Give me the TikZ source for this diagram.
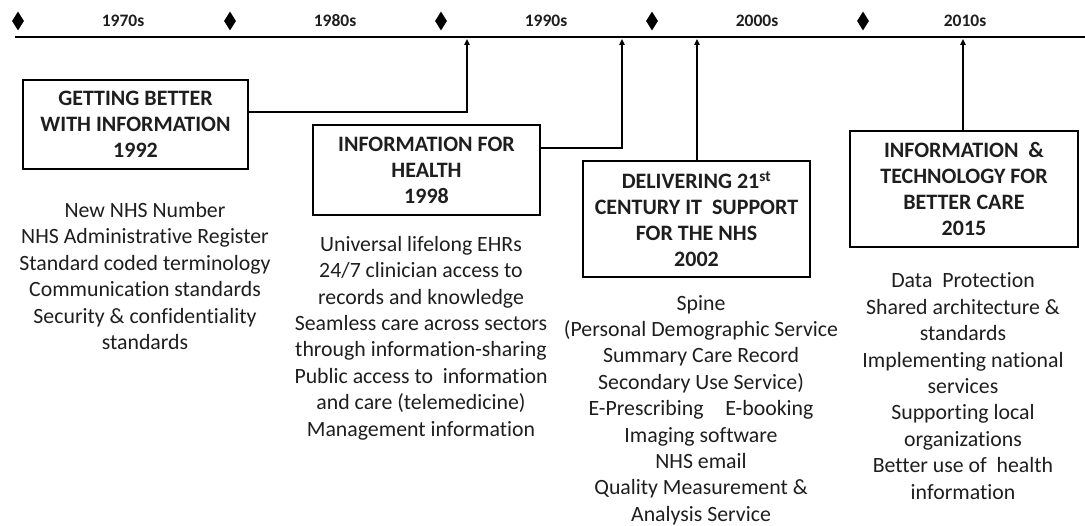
\documentclass[tikz,border=0pt]{standalone}
\usepackage{fontspec}
\setmainfont{Carlito}[Ligatures=NoCommon]
\usepackage{xcolor}
\usetikzlibrary{shapes.geometric, arrows.meta, positioning, calc}

\definecolor{inkgray}{HTML}{1E1E1E}

\tikzset{
  docbox/.style={draw=black, line width=1.8pt, align=center, font=\fontsize{22}{26}\selectfont\bfseries,
                 text=inkgray, inner sep=0pt},
  itemlist/.style={align=center, font=\fontsize{21.8}{26.4}\selectfont, text=inkgray, inner sep=0pt},
  decade/.style={font=\fontsize{17.5}{18}\selectfont\bfseries, text=inkgray},
  tick/.style={diamond, fill=black, inner sep=0pt, minimum width=12pt, minimum height=19pt},
  link/.style={line width=1.8pt, -{Triangle[length=6pt,width=5.5pt]}}
}

\begin{document}
\begin{tikzpicture}[x=1pt, y=-1pt]
\useasboundingbox (0,0) rectangle (1085,526);

% timeline
\draw[line width=2.6pt] (15,37) -- (1085,37);
\foreach \x [count=\i] in {18,230,441,652,863}
    \node[tick] (d\i) at (\x,21) {};
\foreach \x/\d in {123/1970s,335/1980s,546/1990s,757/2000s,965/2010s}
    \node[decade] (y\d) at (\x,21) {\d};

% arrow ends on the timeline
\coordinate (t1) at (467,39);
\coordinate (t2) at (622,39);
\coordinate (t3) at (697,39);
\coordinate (t4) at (963,39);

% strategy documents
\node[docbox, minimum width=225pt, minimum height=89pt] (b1) at (135.5,124.5)
    {GETTING BETTER\\WITH INFORMATION\\1992};
\node[docbox, minimum width=227pt, minimum height=90pt] (b2) at (426.5,170)
    {INFORMATION FOR\\HEALTH\\1998};
\node[docbox, minimum width=227pt, minimum height=116pt] (b3) at (696.5,219)
    {DELIVERING 21\textsuperscript{st}\\CENTURY IT~ SUPPORT\\FOR THE NHS\\2002};
\node[docbox, minimum width=228pt, minimum height=116pt] (b4) at (964,189)
    {INFORMATION~ \&\\TECHNOLOGY FOR\\BETTER CARE\\2015};

% connectors
\coordinate (k1) at (467,112);
\coordinate (k2) at (622,148);
\draw[link] (b1.east |- k1) -- (k1) -- (t1);
\draw[link] (b2.east |- k2) -- (k2) -- (t2);
\draw[link] (b3.north -| t3) -- (t3);
\draw[link] (b4.north -| t4) -- (t4);

% contents
\node[itemlist] (l1) at (145,276)
    {New NHS Number\\NHS Administrative Register\\Standard coded terminology\\Communication standards\\Security \& confidentiality\\standards};
\node[itemlist] (l2) at (421,338)
    {Universal lifelong EHRs\\24/7 clinician access to\\records and knowledge\\Seamless care across sectors\\through information-sharing\\Public access to~ information\\and care (telemedicine)\\Management information};
\node[itemlist] (l3) at (701,410)
    {Spine\\(Personal Demographic Service\\Summary Care Record\\Secondary Use Service)\\E-Prescribing\quad E-booking\\Imaging software\\NHS email\\Quality Measurement \&\\Analysis Service};
\node[itemlist] (l4) at (963,386)
    {Data~ Protection\\Shared architecture \&\\standards\\Implementing national\\services\\Supporting local\\organizations\\Better use of~ health\\information};
\end{tikzpicture}
\end{document}
